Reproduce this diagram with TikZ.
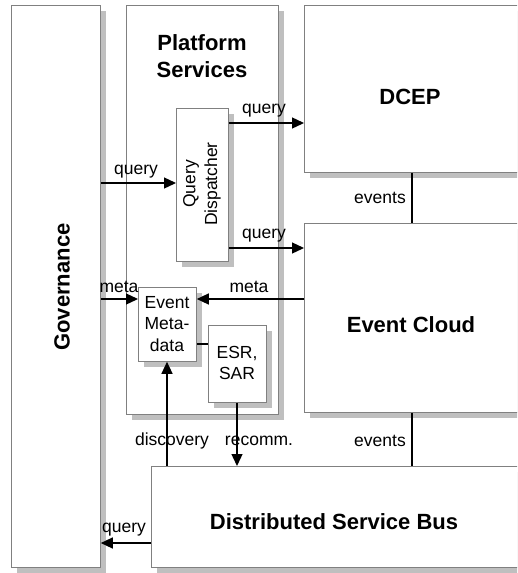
\documentclass[tikz,border=0pt]{standalone}
\usepackage{fontspec}
\setmainfont{Liberation Sans}
\usetikzlibrary{arrows.meta,shadows}
\begin{document}
\begin{tikzpicture}[x=1pt,y=-1pt,
  box/.style={draw=black!50, line width=0.8pt, fill=white, anchor=north west, inner sep=0pt,
    drop shadow={shadow xshift=6pt, shadow yshift=-6pt, fill=black!25, opacity=1}},
  arr/.style={line width=1.3pt, -{Triangle[length=12pt,width=11pt]}},
  ln/.style={line width=1.3pt},
  lbl/.style={font=\fontsize{17.5}{21}\selectfont, inner sep=0pt},
  big/.style={font=\fontsize{22}{27}\selectfont\bfseries, align=center, inner sep=0pt},
  small/.style={font=\fontsize{17.5}{21.7}\selectfont, align=center, inner sep=0pt}]
\useasboundingbox (0,0) rectangle (517,573);
\clip (0,0) rectangle (517,573);
% boxes
\node[box, minimum width=89pt, minimum height=562pt] (gov) at (11,5) {};
\node[box, minimum width=152pt, minimum height=409pt] (ps) at (126,5) {};
\node[box, minimum width=52pt, minimum height=153pt] (qd) at (176,108) {};
\node[box, minimum width=226pt, minimum height=167pt] (dcep) at (304,5) {};
\node[box, minimum width=226pt, minimum height=189pt] (ec) at (304,223) {};
\node[box, minimum width=58pt, minimum height=74pt] (em) at (138,287) {};
\node[box, minimum width=58pt, minimum height=77pt] (esr) at (208,325) {};
\node[box, minimum width=379pt, minimum height=101pt] (dsb) at (151,466) {};
% texts
\node[big, rotate=90] (govt) at (62,287) {Governance};
\node[big] (pst) at (202,56) {Platform\\Services};
\node[big] (dcept) at (410,97) {DCEP};
\node[big] (ect) at (411,325) {Event Cloud};
\node[big] (dsbt) at (334,522) {Distributed Service Bus};
\node[small, rotate=90] (qdt) at (202,184) {Query\\Dispatcher};
\node[small] (emt) at (167,324) {Event\\Meta-\\data};
\node[small] (esrt) at (237,363) {ESR,\\SAR};
% connectors
\draw[arr] (gov.east |- 0,183) -- (qd.west |- 0,183);
\node[lbl] (l1) at (136,172) {query};
\draw[arr] (qd.east |- 0,123) -- (dcep.west |- 0,123);
\node[lbl] (l2) at (264,111) {query};
\draw[arr] (qd.east |- 0,248) -- (ec.west |- 0,248);
\node[lbl] (l3) at (264,236) {query};
\draw[ln] (dcep.south -| 412,0) -- (ec.north -| 412,0);
\node[lbl] (l4) at (380,198) {events};
\draw[arr] (gov.east |- 0,299) -- (em.west |- 0,299);
\node[lbl] (l5) at (119,287) {meta};
\draw[arr] (ec.west |- 0,299) -- (em.east |- 0,299);
\node[lbl] (l6) at (249,287) {meta};
\draw[ln] (em.east |- 0,344) -- (esr.west |- 0,344);
\draw[arr] (dsb.north -| 167,0) -- (em.south -| 167,0);
\node[lbl] (l7) at (172,441) {discovery};
\draw[arr] (esr.south -| 237,0) -- (dsb.north -| 237,0);
\node[lbl] (l8) at (259,441) {recomm.};
\draw[ln] (ec.south -| 412,0) -- (dsb.north -| 412,0);
\node[lbl] (l9) at (380,441) {events};
\draw[arr] (dsb.west |- 0,543) -- (gov.east |- 0,543);
\node[lbl] (l10) at (124,530) {query};
\end{tikzpicture}
\end{document}
